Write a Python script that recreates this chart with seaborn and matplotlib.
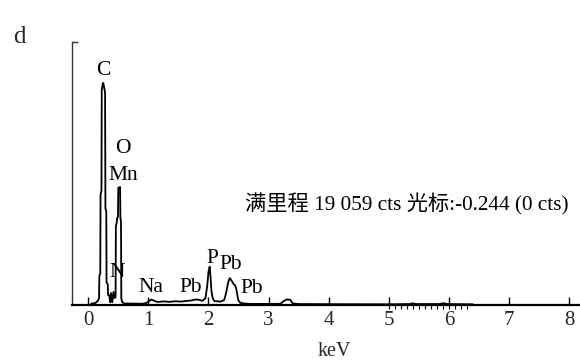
import numpy as np
import pandas as pd
import matplotlib
matplotlib.use("Agg")
import matplotlib.pyplot as plt
import seaborn as sns

# ---- data (keV, counts) ----
energy = [0.05, 0.12, 0.16, 0.18, 0.185, 0.20, 0.205, 0.22, 0.225, 0.245,
          0.255, 0.28, 0.286, 0.30, 0.305, 0.325, 0.33, 0.35, 0.365, 0.38,
          0.40, 0.42, 0.44, 0.455, 0.46, 0.475, 0.48, 0.495, 0.50, 0.53,
          0.535, 0.545, 0.55, 0.565, 0.60, 0.90, 0.97, 1.00, 1.05, 1.10,
          1.15, 1.25, 1.35, 1.45, 1.55, 1.65, 1.72, 1.79, 1.84, 1.90,
          1.95, 1.98, 2.00, 2.02, 2.035, 2.05, 2.07, 2.10, 2.20, 2.26,
          2.29, 2.33, 2.355, 2.395, 2.42, 2.44, 2.46, 2.495, 2.53, 2.62,
          2.70, 3.00, 3.20, 3.24, 3.30, 3.36, 3.40, 3.50, 4.00, 5.00,
          5.35, 5.40, 5.45, 5.85, 5.90, 5.97, 6.40]
counts = [100, 145, 300, 500, 2100, 2300, 8000, 8300, 15600, 16100,
          16000, 15400, 7000, 6800, 1650, 1500, 725, 700, 200, 870,
          200, 950, 500, 600, 5700, 6000, 6300, 6400, 8500, 8550,
          6300, 6100, 500, 200, 110, 90, 150, 250, 400, 300,
          220, 260, 230, 270, 250, 300, 330, 400, 380, 300,
          500, 1400, 2400, 2780, 2000, 1000, 500, 280, 250, 350,
          800, 1690, 1950, 1690, 1500, 1450, 1210, 360, 150, 100,
          80, 80, 90, 250, 400, 380, 120, 70, 60, 50,
          70, 120, 70, 70, 130, 70, 50]

full_scale = 19059
x_ticks = [0, 1, 2, 3, 4, 5, 6, 7, 8]
minor_ticks = [5.0, 5.1, 5.2, 5.3, 5.4, 5.5, 5.6, 5.7, 5.8, 5.9, 6.0, 6.1, 6.2, 6.3]

peak_labels = ["C", "O", "Mn", "N", "Na", "Pb", "P", "Pb", "Pb"]
peak_x = [0.246, 0.578, 0.578, 0.473, 1.05, 1.70, 2.063, 2.367, 2.728]
peak_y = [16668, 11015, 9059, 2029, 978, 978, 3044, 2609, 870]

info_text = "满里程 19 059 cts 光标:-0.244 (0 cts)"
info_x, info_y = 2.60, 6885

df = pd.DataFrame({"energy": energy, "counts": counts})

sns.set_theme(style="white")
plt.rcParams["font.family"] = ["Liberation Serif", "Noto Sans CJK SC"]
plt.rcParams["axes.unicode_minus"] = False

fig = plt.figure(figsize=(5.8, 3.63), dpi=100)
ax = fig.add_axes([72 / 580, 58 / 363, 508 / 580, 263 / 363])

sns.lineplot(data=df, x="energy", y="counts", color="black", linewidth=1.3,
             estimator=None, sort=False, ax=ax, legend=False)

ax.set_xlim(-0.27, 8.18)
ax.set_ylim(0, full_scale)

ax.spines["top"].set_visible(False)
ax.spines["right"].set_visible(False)
ax.spines["left"].set_color("#333333")
ax.spines["left"].set_linewidth(1.0)
ax.spines["bottom"].set_color("black")
ax.spines["bottom"].set_linewidth(1.6)

ax.set_xticks(x_ticks)
ax.set_xticklabels([str(t) for t in x_ticks])
ax.set_xticks(minor_ticks, minor=True)
ax.xaxis.remove_overlapping_locs = False
ax.tick_params(axis="x", which="major", direction="in", length=6, width=1.0,
               color="black", labelsize=15, pad=4, bottom=True)
ax.tick_params(axis="x", which="minor", direction="out", length=3, width=0.8,
               color="black", bottom=True)
ax.set_yticks([full_scale])
ax.set_yticklabels([])
ax.tick_params(axis="y", direction="in", length=4, width=1.0, color="#333333", left=True)

ax.set_xlabel("keV", fontsize=14.5)
ax.set_ylabel("")
ax.xaxis.set_label_coords(0.516, -0.14)

for lab, px, py in zip(peak_labels, peak_x, peak_y):
    ax.text(px, py, lab, ha="center", va="baseline", fontsize=15.5, color="black")

ax.text(info_x, info_y, info_text, ha="left", va="baseline", fontsize=15.3, color="black")

fig.text(19 / 580, 1 - 43 / 363, "d", ha="center", va="baseline", fontsize=18)

fig.savefig("out.png", dpi=100)
